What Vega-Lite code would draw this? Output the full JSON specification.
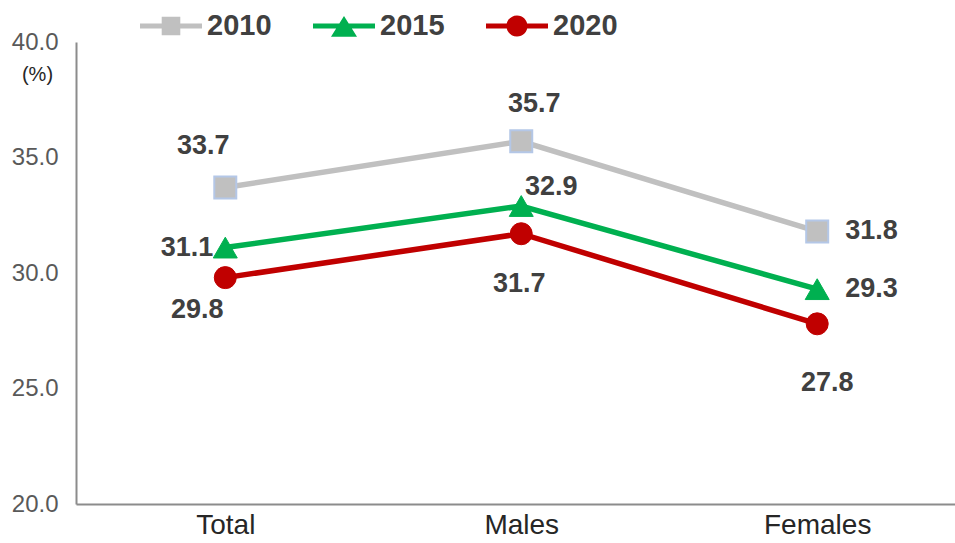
{
  "$schema": "https://vega.github.io/schema/vega-lite/v6.json",
  "autosize": {"type": "none"},
  "padding": {"left": 76, "top": 42, "right": 0, "bottom": 39},
  "width": 879,
  "height": 462,
  "background": "white",
  "config": {
    "view": {"stroke": null},
    "font": "Liberation Sans"
  },
  "data": {
    "values": [
      {"cat": "Total", "year": "2010", "value": 33.7},
      {"cat": "Males", "year": "2010", "value": 35.7},
      {"cat": "Females", "year": "2010", "value": 31.8},
      {"cat": "Total", "year": "2015", "value": 31.1},
      {"cat": "Males", "year": "2015", "value": 32.9},
      {"cat": "Females", "year": "2015", "value": 29.3},
      {"cat": "Total", "year": "2020", "value": 29.8},
      {"cat": "Males", "year": "2020", "value": 31.7},
      {"cat": "Females", "year": "2020", "value": 27.8}
    ]
  },
  "encoding": {
    "x": {
      "field": "cat", "type": "nominal", "sort": ["Total", "Males", "Females"],
      "scale": {"type": "point", "padding": 0.485, "align": 0.52},
      "axis": {
        "title": null, "labelAngle": 0, "ticks": false, "tickSize": 0,
        "labelFontSize": 28, "labelColor": "#262626", "labelPadding": 7,
        "labelFont": "Liberation Sans",
        "domainColor": "#8c8c8c", "domainWidth": 2, "grid": false
      }
    },
    "y": {
      "field": "value", "type": "quantitative",
      "scale": {"domain": [20, 40], "nice": false, "zero": false},
      "axis": {
        "values": [20, 25, 30, 35, 40], "format": ".1f",
        "ticks": false, "tickSize": 0, "grid": false,
        "labelFontSize": 24, "labelColor": "#595959", "labelPadding": 18,
        "labelFont": "Liberation Sans",
        "domainColor": "#8c8c8c", "domainWidth": 2,
        "title": "(%)", "titleAngle": 0, "titleX": -39, "titleY": 32,
        "titleAlign": "center", "titleBaseline": "middle",
        "titleFontSize": 20, "titleFontWeight": "normal", "titleColor": "#262626",
        "titleFont": "Liberation Sans"
      }
    }
  },
  "layer": [
    {
      "mark": {"type": "line", "strokeWidth": 5.5},
      "encoding": {
        "color": {
          "field": "year", "type": "nominal",
          "scale": {"domain": ["2010", "2015", "2020"], "range": ["#c0c0c0", "#00b050", "#c00000"]},
          "legend": {
            "title": null, "orient": "none", "direction": "horizontal",
            "legendX": 64, "legendY": -47, "padding": 0,
            "symbolSize": 3844, "symbolStrokeWidth": 0, "symbolOpacity": 1,
            "labelFontSize": 29, "labelFontWeight": "bold", "labelColor": "#404040",
            "labelFont": "Liberation Sans",
            "labelOffset": 5, "columnPadding": 41,
            "encode": {
              "symbols": {
                "update": {
                  "shape": {"signal": "datum.value == '2010' ? 'M-1,-0.08H1V0.08H-1Z M-0.3,-0.3H0.3V0.3H-0.3Z' : datum.value == '2015' ? 'M-1,-0.08H1V0.08H-1Z M0,-0.32L0.42,0.35L-0.42,0.35Z' : 'M-1,-0.08H1V0.08H-1Z M-0.34,0A0.34,0.34,0,1,1,0.34,0A0.34,0.34,0,1,1,-0.34,0Z'"},
                  "fill": {"scale": "color", "field": "value"},
                  "stroke": {"value": "transparent"},
                  "strokeWidth": {"value": 0},
                  "opacity": {"value": 1}
                }
              }
            }
          }
        }
      }
    },
    {
      "transform": [{"filter": "datum.year == '2010'"}],
      "mark": {"type": "point", "shape": "square", "filled": true, "size": 484, "opacity": 1, "fill": "#c0c0c0", "stroke": "#b4c7e7", "strokeWidth": 2}
    },
    {
      "transform": [{"filter": "datum.year == '2015'"}],
      "mark": {"type": "point", "shape": "triangle-up", "filled": true, "size": 576, "opacity": 1, "fill": "#00b050", "stroke": "#00b050", "strokeWidth": 1}
    },
    {
      "transform": [{"filter": "datum.year == '2020'"}],
      "mark": {"type": "point", "shape": "circle", "filled": true, "size": 484, "opacity": 1, "fill": "#c00000", "stroke": "#c00000", "strokeWidth": 1}
    },
    {
      "transform": [{"filter": "datum.year == '2010' && datum.cat == 'Total'"}],
      "mark": {"type": "text", "dx": -22, "dy": -42, "align": "center", "baseline": "middle", "fontSize": 27, "fontWeight": "bold", "color": "#404040", "font": "Liberation Sans"},
      "encoding": {"text": {"field": "value", "type": "quantitative", "format": ".1f"}}
    },
    {
      "transform": [{"filter": "datum.year == '2010' && datum.cat == 'Males'"}],
      "mark": {"type": "text", "dx": 13, "dy": -37, "align": "center", "baseline": "middle", "fontSize": 27, "fontWeight": "bold", "color": "#404040", "font": "Liberation Sans"},
      "encoding": {"text": {"field": "value", "type": "quantitative", "format": ".1f"}}
    },
    {
      "transform": [{"filter": "datum.year != '2020' && datum.cat == 'Females'"}],
      "mark": {"type": "text", "dx": 28, "dy": 0, "align": "left", "baseline": "middle", "fontSize": 27, "fontWeight": "bold", "color": "#404040", "font": "Liberation Sans"},
      "encoding": {"text": {"field": "value", "type": "quantitative", "format": ".1f"}}
    },
    {
      "transform": [{"filter": "datum.year == '2015' && datum.cat == 'Total'"}],
      "mark": {"type": "text", "dx": -12, "dy": 0, "align": "right", "baseline": "middle", "fontSize": 27, "fontWeight": "bold", "color": "#404040", "font": "Liberation Sans"},
      "encoding": {"text": {"field": "value", "type": "quantitative", "format": ".1f"}}
    },
    {
      "transform": [{"filter": "datum.year == '2015' && datum.cat == 'Males'"}],
      "mark": {"type": "text", "dx": 30, "dy": -19, "align": "center", "baseline": "middle", "fontSize": 27, "fontWeight": "bold", "color": "#404040", "font": "Liberation Sans"},
      "encoding": {"text": {"field": "value", "type": "quantitative", "format": ".1f"}}
    },
    {
      "transform": [{"filter": "datum.year == '2020' && datum.cat == 'Total'"}],
      "mark": {"type": "text", "dx": -28, "dy": 32, "align": "center", "baseline": "middle", "fontSize": 27, "fontWeight": "bold", "color": "#404040", "font": "Liberation Sans"},
      "encoding": {"text": {"field": "value", "type": "quantitative", "format": ".1f"}}
    },
    {
      "transform": [{"filter": "datum.year == '2020' && datum.cat == 'Males'"}],
      "mark": {"type": "text", "dx": -2, "dy": 50, "align": "center", "baseline": "middle", "fontSize": 27, "fontWeight": "bold", "color": "#404040", "font": "Liberation Sans"},
      "encoding": {"text": {"field": "value", "type": "quantitative", "format": ".1f"}}
    },
    {
      "transform": [{"filter": "datum.year == '2020' && datum.cat == 'Females'"}],
      "mark": {"type": "text", "dx": 10, "dy": 59, "align": "center", "baseline": "middle", "fontSize": 27, "fontWeight": "bold", "color": "#404040", "font": "Liberation Sans"},
      "encoding": {"text": {"field": "value", "type": "quantitative", "format": ".1f"}}
    }
  ]
}
